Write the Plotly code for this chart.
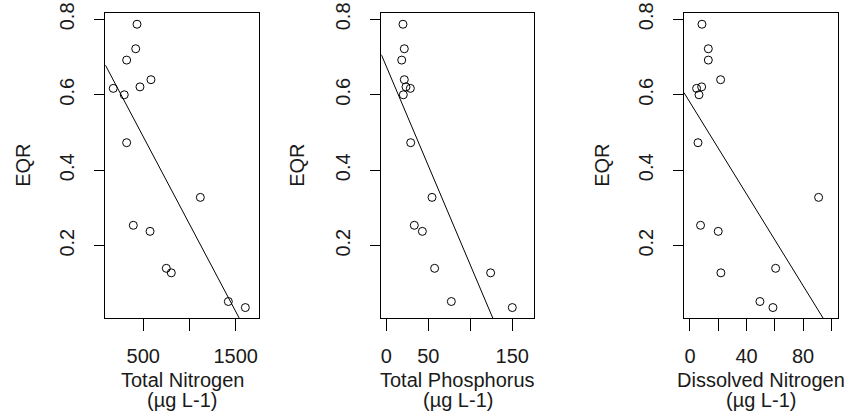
import numpy as np
import plotly.graph_objects as go
from plotly.subplots import make_subplots

# EQR observed at each site (shared y for all three panels)
eqr = [0.787, 0.722, 0.692, 0.640, 0.621, 0.617, 0.600, 0.473,
       0.328, 0.254, 0.238, 0.140, 0.128, 0.052, 0.036]

# predictors, same site order
total_n = [432, 418, 320, 583, 464, 175, 294, 320,
           1117, 392, 573, 749, 803, 1420, 1604]
total_p = [19.8, 21.4, 18.3, 21.4, 23.4, 28.6, 20.2, 29.0,
           54.4, 33.3, 42.9, 57.5, 124.2, 77.4, 150.0]
dissolved_n = [8.5, 13.0, 13.0, 21.7, 8.3, 4.7, 6.4, 5.7,
               91.0, 7.5, 20.0, 60.6, 21.9, 49.5, 58.7]

x_titles = ["Total Nitrogen", "Total Phosphorus", "Dissolved Nitrogen"]
unit = "(µg L-1)"

x_ranges = [[89, 1755], [-6.0, 176.2], [-4.2, 104.5]]
x_tickvals = [[500, 1000, 1500], [0, 50, 100, 150], [0, 20, 40, 60, 80, 100]]
x_ticktext = [["500", "", "1500"], ["0", "50", "", "150"], ["0", "", "40", "", "80", ""]]
y_range = [0.0075, 0.816]
y_tickvals = [0.2, 0.4, 0.6, 0.8]

W, H = 846, 420
# plot box edges in pixels (left, right)
boxes = [(105.3, 259.3), (381.3, 534.3), (684.0, 837.7)]
eqr_x = [23, 297, 602]
box_top, box_bot = 13.3, 318.3

FONT = "Liberation Sans, Arial, sans-serif"
INK = "#1a1a1a"
FS = 20

fig = make_subplots(rows=1, cols=3)

for i, xs in enumerate([total_n, total_p, dissolved_n]):
    col = i + 1
    fig.add_trace(go.Scatter(
        x=xs, y=eqr, mode="markers",
        marker=dict(symbol="circle-open", size=8, color="black", line=dict(width=1)),
        showlegend=False, hoverinfo="skip"), row=1, col=col)

    # least squares line, drawn across the whole axis and clipped by the plot box
    slope, intercept = np.polyfit(xs, eqr, 1)
    lx = np.array(x_ranges[i], dtype=float)
    fig.add_trace(go.Scatter(
        x=lx, y=intercept + slope * lx, mode="lines",
        line=dict(color="black", width=1), showlegend=False, hoverinfo="skip"),
        row=1, col=col)

    l, r = boxes[i]
    axis_common = dict(showline=True, mirror=True, linecolor="black", linewidth=1,
                       showgrid=False, zeroline=False, ticks="outside",
                       tickcolor="black", tickwidth=1, ticklabeloverflow="allow",
                       automargin=False,
                       tickfont=dict(family=FONT, size=FS, color=INK))
    fig.update_xaxes(domain=[l / W, r / W], range=x_ranges[i],
                     tickmode="array", tickvals=x_tickvals[i], ticktext=x_ticktext[i],
                     ticklen=12, ticklabelstandoff=8, **axis_common, row=1, col=col)
    fig.update_yaxes(domain=[1 - box_bot / H, 1 - box_top / H], range=y_range,
                     tickmode="array", tickvals=y_tickvals, tickangle=-90,
                     ticklen=10, ticklabelstandoff=12, **axis_common, row=1, col=col)

    fig.add_annotation(text=x_titles[i], xref="paper", yref="paper",
                       x=(l + r) / 2 / W, y=1 - 380 / H, showarrow=False,
                       xanchor="center", yanchor="middle",
                       font=dict(family=FONT, size=FS, color=INK))
    fig.add_annotation(text=unit, xref="paper", yref="paper",
                       x=(l + r) / 2 / W, y=1 - 400 / H, showarrow=False,
                       xanchor="center", yanchor="middle",
                       font=dict(family=FONT, size=FS, color=INK))
    fig.add_annotation(text="EQR", xref="paper", yref="paper", textangle=-90,
                       x=eqr_x[i] / W, y=1 - (box_top + box_bot) / 2 / H,
                       showarrow=False, xanchor="center", yanchor="middle",
                       font=dict(family=FONT, size=FS, color=INK))

fig.update_layout(width=W, height=H, margin=dict(l=0, r=0, t=0, b=0, autoexpand=False),
                  paper_bgcolor="white", plot_bgcolor="white")

# drop the page's default body margin so the figure fills the window exactly
fig.write_html("out.html", config={"displayModeBar": False},
               post_script="document.body.style.margin='0';")
